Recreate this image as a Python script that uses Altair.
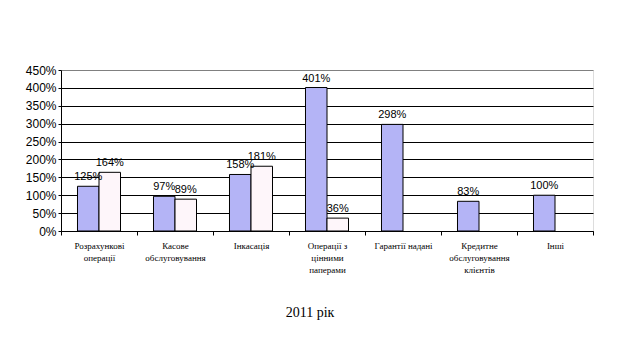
import altair as alt
import pandas as pd

categories = ["Розрахункові|операції", "Касове|обслуговування", "Інкасація",
              "Операції з|цінними|паперами", "Гарантії надані",
              "Кредитне|обслуговування|клієнтів", "Інші"]
series = ["s1", "s2"]
values_s1 = [125, 97, 158, 401, 298, 83, 100]
values_s2 = [164, 89, 181, 36, None, None, None]

rows = []
for c, a, b in zip(categories, values_s1, values_s2):
    rows.append({"cat": c, "ser": "s1", "v": a})
    if b is not None:
        rows.append({"cat": c, "ser": "s2", "v": b})
df = pd.DataFrame(rows)
df["lbl"] = df["v"].astype(int).astype(str) + "%"

x = alt.X("cat:N", sort=categories,
          scale=alt.Scale(paddingInner=0, paddingOuter=0),
          axis=alt.Axis(title=None, labelAngle=0,
                        labelExpr="isValid(datum.value) ? split(datum.value, '|') : ''",
                        labelFont="Liberation Serif", labelFontSize=9, labelColor="black",
                        labelLineHeight=12, labelPadding=6, tickBand="extent",
                        tickColor="black", tickSize=4, domainColor="black",
                        labelBaseline="top", grid=False))
xo = alt.XOffset("ser:N", sort=series,
                 scale=alt.Scale(domain=series, paddingInner=0, paddingOuter=0.767))
y = alt.Y("v:Q", scale=alt.Scale(domain=[0, 450], nice=False),
          axis=alt.Axis(title=None, values=list(range(0, 451, 50)),
                        labelExpr="datum.value + '%'", labelFont="Liberation Sans",
                        labelFontSize=12, labelColor="black", tickSize=3,
                        tickColor="black", domainColor="black",
                        gridColor=alt.condition("datum.value == 450", alt.value("#808080"),
                                                alt.value("black")),
                        gridOpacity=1, labelPadding=2))

bars = alt.Chart(df).mark_bar(stroke="black", strokeWidth=1).encode(
    x=x, xOffset=xo, y=y,
    color=alt.Color("ser:N", scale=alt.Scale(domain=series, range=["#b4b4f6", "#fef6fa"]),
                    legend=None))

labels = alt.Chart(df).mark_text(baseline="bottom", dy=-4, font="Liberation Sans",
                                  fontSize=11, color="black").encode(
    x=x, xOffset=xo, y=y, text="lbl:N")

chart = alt.layer(bars, labels).properties(
    width=532, height=161,
    autosize=alt.AutoSizeParams(type="none"),
    padding={"left": 53, "top": 62, "right": 40, "bottom": 100},
    title=alt.TitleParams("2011 рік", orient="bottom", anchor="middle",
                          font="Liberation Serif", fontSize=14, fontWeight="normal",
                          color="black", offset=32, dx=-17),
).configure_view(stroke="#808080", strokeWidth=1).configure(background="white"
).configure_axisX(labelFont="Liberation Serif", labelFontSize=9)

chart.save("out.html", embed_options={"renderer": "svg", "actions": False})
